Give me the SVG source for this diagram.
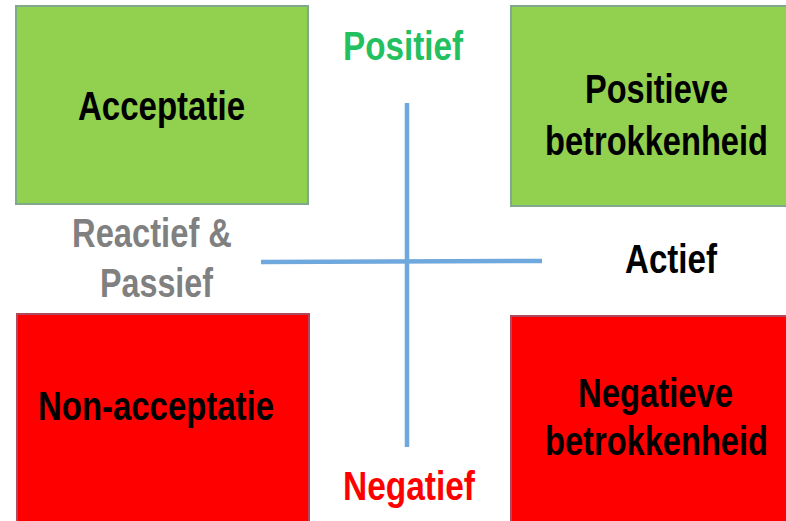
<svg xmlns="http://www.w3.org/2000/svg" width="786" height="521" viewBox="0 0 786 521">
<style>
text{font-family:"Liberation Sans",Arial,sans-serif;font-weight:bold;font-size:41px;text-anchor:middle}
.g{fill:#92d050;stroke:#7fa98c;stroke-width:2}
.r{fill:#ff0000;stroke:#b0485e;stroke-width:2}
.gf{fill:#92d050}
.rf{fill:#ff0000}
.gs{fill:none;stroke:#7fa98c;stroke-width:2}
.rs{fill:none;stroke:#b0485e;stroke-width:2}
.lbl{fill:#000}
.ax{stroke:#6fa8dc;stroke-width:4.5;fill:none}
</style>
<rect width="786" height="521" fill="#fff"/>
<g id="acceptatie">
<rect class="g" x="16" y="6" width="292" height="198"/>
<text class="lbl" x="161.5" y="120" textLength="167" lengthAdjust="spacingAndGlyphs">Acceptatie</text>
</g>
<g id="positieve-betrokkenheid">
<rect class="gf" x="511" y="6" width="275" height="200"/>
<path class="gs" d="M786,6 H511 V206 H786"/>
<text class="lbl" x="656.5" y="103" textLength="143" lengthAdjust="spacingAndGlyphs">Positieve</text>
<text class="lbl" transform="translate(656.5,155) scale(0.796,1)" x="0" y="0">betrokkenheid</text>
</g>
<g id="non-acceptatie">
<rect class="r" x="17" y="314" width="292" height="215"/>
<text class="lbl" x="156" y="420" textLength="236" lengthAdjust="spacingAndGlyphs">Non-acceptatie</text>
</g>
<g id="negatieve-betrokkenheid">
<rect class="rf" x="511" y="316" width="275" height="205"/>
<path class="rs" d="M786,316 H511 V521"/>
<text class="lbl" x="655.5" y="407" textLength="155" lengthAdjust="spacingAndGlyphs">Negatieve</text>
<text class="lbl" transform="translate(656.5,455) scale(0.796,1)" x="0" y="0">betrokkenheid</text>
</g>
<g id="connectors">
<line class="ax" x1="407" y1="103" x2="407" y2="447"/>
<line class="ax" x1="261" y1="262" x2="542" y2="261"/>
</g>
<g id="axis-labels">
<text x="403" y="60" fill="#22c05e" textLength="120" lengthAdjust="spacingAndGlyphs">Positief</text>
<text x="409" y="500" fill="#ff0000" textLength="132" lengthAdjust="spacingAndGlyphs">Negatief</text>
<text x="152" y="247" fill="#808080" textLength="160" lengthAdjust="spacingAndGlyphs">Reactief &amp;</text>
<text x="156.5" y="297" fill="#808080" textLength="113" lengthAdjust="spacingAndGlyphs">Passief</text>
<text x="671" y="273" fill="#000" textLength="92" lengthAdjust="spacingAndGlyphs">Actief</text>
</g>
</svg>
